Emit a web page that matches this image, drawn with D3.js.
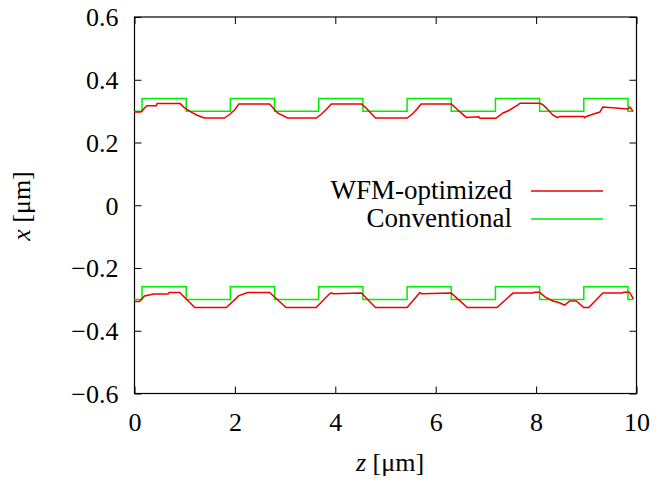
<!DOCTYPE html>
<html>
<head>
<meta charset="utf-8">
<script src="https://cdn.jsdelivr.net/npm/d3@7"></script>
<style>
  body { margin: 0; background: #fff; }
  svg text { font-family: "Liberation Serif", "Times New Roman", Times, "DejaVu Serif", serif !important; fill: #000; }
</style>
</head>
<body>
<svg id="chart" width="658" height="484" font-family="Liberation Serif"></svg>
<script>
// axis ticks
const xTicks = [0, 2, 4, 6, 8, 10];
const yTicks = [-0.6, -0.4, -0.2, 0, 0.2, 0.4, 0.6];

// Conventional: step breakpoints (value holds until next z)
const convZ = [0, 0.15, 1.03, 1.91, 2.79, 3.67, 4.55, 5.43, 6.31, 7.19, 8.07, 8.95, 9.83, 9.93];
const convTop = [0.30, 0.34, 0.30, 0.34, 0.30, 0.34, 0.30, 0.34, 0.30, 0.34, 0.30, 0.34, 0.30, 0.30];
const convBottom = [-0.30, -0.26, -0.30, -0.26, -0.30, -0.26, -0.30, -0.26, -0.30, -0.26, -0.30, -0.26, -0.30, -0.30];

// WFM-optimized, upper edge
const wfmTopZ = [0, 0.13, 0.20, 0.25, 0.43, 0.45, 0.91, 1.00, 1.13, 1.25, 1.39, 1.79, 1.90, 2.00, 2.08,
  2.69, 2.85, 3.05, 3.62, 3.72, 3.82, 3.92, 4.52, 4.60, 4.70, 4.80, 5.43, 5.53, 5.62, 5.71,
  6.31, 6.40, 6.50, 6.61, 6.86, 6.88, 7.20, 7.34, 7.46, 7.54, 7.64, 7.68, 8.07, 8.12, 8.17,
  8.27, 8.33, 8.43, 8.47, 8.95, 8.97, 9.00, 9.13, 9.27, 9.33, 9.83, 9.87, 9.93];
const wfmTopX = [0.297, 0.297, 0.310, 0.317, 0.317, 0.324, 0.324, 0.310, 0.297, 0.287, 0.278, 0.278, 0.290, 0.305, 0.323,
  0.323, 0.294, 0.278, 0.278, 0.290, 0.305, 0.323, 0.323, 0.312, 0.295, 0.278, 0.278, 0.290, 0.305, 0.323,
  0.323, 0.310, 0.295, 0.280, 0.282, 0.277, 0.277, 0.294, 0.302, 0.310, 0.320, 0.325, 0.325, 0.322, 0.315,
  0.299, 0.288, 0.279, 0.283, 0.283, 0.279, 0.283, 0.290, 0.297, 0.313, 0.307, 0.313, 0.299];

// WFM-optimized, lower edge
const wfmBotZ = [0, 0.10, 0.20, 0.38, 0.67, 0.69, 0.90, 1.20, 1.83, 2.08, 2.26, 2.69, 3.02, 3.62, 3.88, 3.92, 3.96,
  4.52, 4.80, 5.43, 5.66, 5.68, 5.72, 6.31, 6.63, 7.22, 7.54, 7.94, 7.96, 8.07, 8.17, 8.33, 8.45,
  8.57, 8.67, 8.80, 8.95, 9.05, 9.33, 9.72, 9.74, 9.86, 9.94];
const wfmBotX = [-0.307, -0.307, -0.289, -0.283, -0.283, -0.278, -0.278, -0.326, -0.326, -0.288, -0.278, -0.278, -0.326, -0.326, -0.283, -0.279, -0.282,
  -0.280, -0.326, -0.326, -0.283, -0.279, -0.282, -0.280, -0.326, -0.326, -0.280, -0.280, -0.277, -0.277, -0.291, -0.305, -0.310,
  -0.318, -0.305, -0.305, -0.326, -0.326, -0.280, -0.280, -0.277, -0.277, -0.299];

const legendItems = [
  {title: 'WFM-optimized', color: '#ee0000'},
  {title: 'Conventional', color: '#00ee00'}
];

const serif = '"Liberation Serif", "Times New Roman", Times, serif';

const margin = {top: 17, right: 21.5, bottom: 90.5, left: 134.5};
const width = 658 - margin.left - margin.right;
const height = 484 - margin.top - margin.bottom;

const svg = d3.select('#chart');
const chart = svg.append('g')
  .attr('transform', 'translate(' + margin.left + ',' + margin.top + ')');

const x = d3.scaleLinear().domain([0, 10]).range([0, width]);
const y = d3.scaleLinear().domain([-0.6, 0.6]).range([height, 0]);

const yFmt = d => d === 0 ? '0' : d3.format('.1f')(d);

function styleAxis(g) {
  g.attr('font-family', serif).attr('font-size', 26);
  g.select('.domain').remove();
  g.selectAll('.tick line').attr('stroke', '#000').attr('stroke-width', 1);
  g.selectAll('text').style('font-family', serif).style('font-size', '26px').attr('fill', '#000');
}

// bottom + top
chart.append('g')
  .attr('transform', 'translate(0,' + height + ')')
  .call(d3.axisBottom(x).tickValues(xTicks).tickSize(-7).tickFormat(d3.format('d')))
  .call(styleAxis)
  .selectAll('text').attr('y', 37).attr('dy', 0);
chart.append('g')
  .call(d3.axisTop(x).tickValues(xTicks).tickSize(-7).tickFormat(''))
  .call(styleAxis);

// left + right
chart.append('g')
  .call(d3.axisLeft(y).tickValues(yTicks).tickSize(-7).tickPadding(16).tickFormat(yFmt))
  .call(styleAxis)
  .selectAll('text').attr('dy', '0.34em');
chart.append('g')
  .attr('transform', 'translate(' + width + ',0)')
  .call(d3.axisRight(y).tickValues(yTicks).tickSize(-7).tickFormat(''))
  .call(styleAxis);

chart.append('rect')
  .attr('width', width).attr('height', height)
  .attr('fill', 'none').attr('stroke', '#000').attr('stroke-width', 1.2);

const stepLine = d3.line().x(d => x(d[0])).y(d => y(d[1])).curve(d3.curveStepAfter);
const plainLine = d3.line().x(d => x(d[0])).y(d => y(d[1]));

[convTop, convBottom].forEach(vals => {
  chart.append('path')
    .datum(convZ.map((z, i) => [z, vals[i]]))
    .attr('d', stepLine)
    .attr('fill', 'none').attr('stroke', legendItems[1].color).attr('stroke-width', 1.5);
});

[[wfmTopZ, wfmTopX], [wfmBotZ, wfmBotX]].forEach(([zs, xs]) => {
  chart.append('path')
    .datum(zs.map((z, i) => [z, xs[i]]))
    .attr('d', plainLine)
    .attr('fill', 'none').attr('stroke', legendItems[0].color).attr('stroke-width', 1.5);
});

// legend
legendItems.forEach((row, i) => {
  svg.append('text')
    .attr('x', 512).attr('y', 199 + 28 * i)
    .attr('text-anchor', 'end')
    .style('font-family', serif)
    .style('font-size', '27px')
    .text(row.title);
  svg.append('line')
    .attr('x1', 531).attr('x2', 603)
    .attr('y1', 191 + 28 * i).attr('y2', 191 + 28 * i)
    .attr('stroke', row.color).attr('stroke-width', 1.5);
});

// axis titles
const xt = svg.append('text')
  .attr('x', 390).attr('y', 471)
  .attr('text-anchor', 'middle')
  .style('font-family', serif)
  .style('font-size', '26px');
xt.append('tspan').style('font-style', 'italic').text('z');
xt.append('tspan').text(' [μm]');

const yt = svg.append('text')
  .attr('transform', 'translate(30,206) rotate(-90)')
  .attr('text-anchor', 'middle')
  .style('font-family', serif)
  .style('font-size', '26px');
yt.append('tspan').style('font-style', 'italic').text('x');
yt.append('tspan').text(' [μm]');
</script>
</body>
</html>
